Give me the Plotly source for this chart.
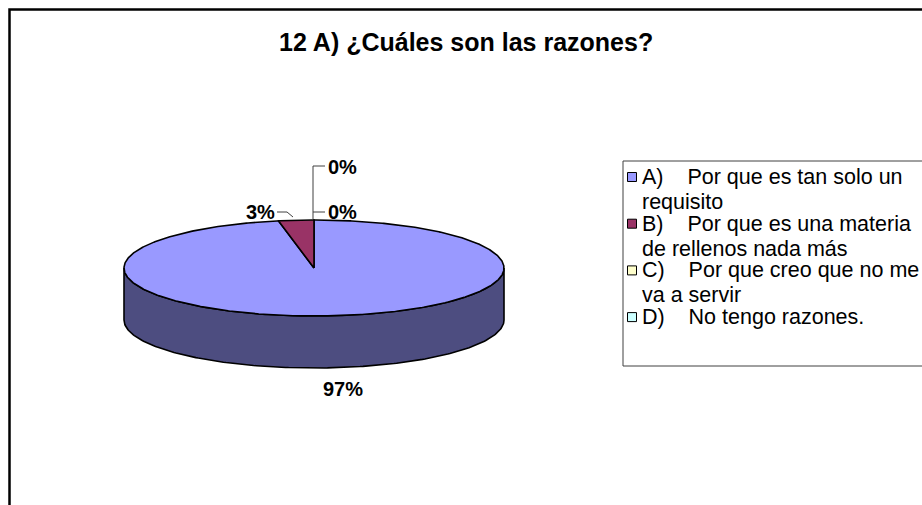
import numpy as np
import plotly.graph_objects as go

# ---------------- data ----------------
TITLE = "12 A) ¿Cuáles son las razones?"
CATEGORIES = [
    "A)\u00a0\u00a0\u00a0 Por que es tan solo un<br>requisito",
    "B)\u00a0\u00a0\u00a0 Por que es una materia<br>de rellenos nada más",
    "C)\u00a0\u00a0\u00a0 Por que creo que no me<br>va a servir",
    "D)\u00a0\u00a0\u00a0 No tengo razones.",
]
VALUES = [97, 3, 0, 0]
TOP_COLORS = ["#9999FF", "#993366", "#FFFFCC", "#CCFFFF"]
SIDE_COLORS = ["#4D4D80", "#4D1A33", "#808066", "#668080"]

FONT = "Arial, 'Liberation Sans', sans-serif"

# ---------------- geometry (pixels) ----------------
W, H = 922, 505
CX, CY = 314, 268       # centre of the top ellipse
RA, RB = 190, 48        # semi axes
DEPTH = 52              # thickness of the 3-D pie

total = float(sum(VALUES))
fracs = [v / total for v in VALUES]
starts = np.concatenate([[0.0], np.cumsum(fracs)[:-1]]) * 360.0
ends = np.cumsum(fracs) * 360.0


def pt(theta_deg, dz=0.0):
    t = np.radians(theta_deg)
    return CX + RA * np.sin(t), CY - RB * np.cos(t) + dz


fig = go.Figure()

# side walls (front half only, theta in [90, 270])
for i, (s, e) in enumerate(zip(starts, ends)):
    a0, a1 = max(s, 90.0), min(e, 270.0)
    if a1 <= a0:
        continue
    th = np.linspace(a0, a1, 200)
    xt, yt = pt(th)
    xb, yb = pt(th[::-1], DEPTH)
    xs = np.concatenate([xt, xb, xt[:1]])
    ys = np.concatenate([yt, yb, yt[:1]])
    fig.add_trace(go.Scatter(x=xs, y=ys, mode="lines", fill="toself",
                             fillcolor=SIDE_COLORS[i],
                             line=dict(color="black", width=1.6),
                             hoverinfo="skip", showlegend=False))

# top faces
for i, (s, e) in enumerate(zip(starts, ends)):
    if e - s <= 0:
        continue
    th = np.linspace(s, e, max(int((e - s) * 2), 4))
    xt, yt = pt(th)
    xs = np.concatenate([[CX], xt, [CX]])
    ys = np.concatenate([[CY], yt, [CY]])
    fig.add_trace(go.Scatter(x=xs, y=ys, mode="lines", fill="toself",
                             fillcolor=TOP_COLORS[i],
                             line=dict(color="black", width=1.6),
                             hoverinfo="skip", showlegend=False))

pct = [f"{round(f * 100)}%" for f in fracs]

annotations = []
shapes = []


def lab(text, x, y, xanchor="center"):
    annotations.append(dict(text=f"<b>{text}</b>", x=x, y=y, xref="x", yref="y",
                            xanchor=xanchor, yanchor="middle", showarrow=False,
                            font=dict(family=FONT, size=20, color="black")))


# data labels
lab(pct[0], 343, 389)
lab(pct[1], 277, 212, "right")
lab(pct[2], 326, 212, "left")
lab(pct[3], 326, 167, "left")

lc = dict(color="#404040", width=1)
shapes.append(dict(type="path", path="M 277 212 L 287 212 L 293 217", line=lc, xref="x", yref="y"))
shapes.append(dict(type="path", path="M 313 219 L 313 212 L 325 212", line=lc, xref="x", yref="y"))
shapes.append(dict(type="path", path="M 313 212 L 313 166 L 325 166", line=lc, xref="x", yref="y"))

# legend (manual, to match the Excel look)
shapes.append(dict(type="rect", x0=623, x1=940, y0=161, y1=366,
                   line=dict(color="#404040", width=1), fillcolor="rgba(0,0,0,0)",
                   xref="x", yref="y"))
for i, cat in enumerate(CATEGORIES):
    y0 = 177 + i * 46.7
    shapes.append(dict(type="rect", x0=627.5, x1=636.5, y0=y0 - 4.5, y1=y0 + 4.5,
                       line=dict(color="black", width=1), fillcolor=TOP_COLORS[i],
                       xref="x", yref="y"))
    for j, line in enumerate(cat.split("<br>")):
        annotations.append(dict(text=line, x=640, y=y0 + j * 25, xref="x", yref="y",
                                xanchor="left", yanchor="middle", showarrow=False,
                                font=dict(family=FONT, size=21.5, color="black")))

# title
annotations.append(dict(text=f"<b>{TITLE}</b>", x=466, y=42, xref="x", yref="y",
                        xanchor="center", yanchor="middle", showarrow=False,
                        font=dict(family=FONT, size=25, color="black")))

# chart frame (left and top edges visible)
shapes.append(dict(type="path", path="M 9.5 510 L 9.5 9.5 L 930 9.5",
                   line=dict(color="black", width=2.5), xref="x", yref="y"))

fig.update_layout(
    width=W, height=H,
    margin=dict(l=0, r=0, t=0, b=0),
    paper_bgcolor="white", plot_bgcolor="white",
    xaxis=dict(range=[0, W], visible=False, fixedrange=True),
    yaxis=dict(range=[H, 0], visible=False, fixedrange=True),
    showlegend=False,
    annotations=annotations,
    shapes=shapes,
)

fig.write_html("out.html", config={"displayModeBar": False},
               post_script="document.body.style.margin='0';document.body.style.overflow='hidden';")
